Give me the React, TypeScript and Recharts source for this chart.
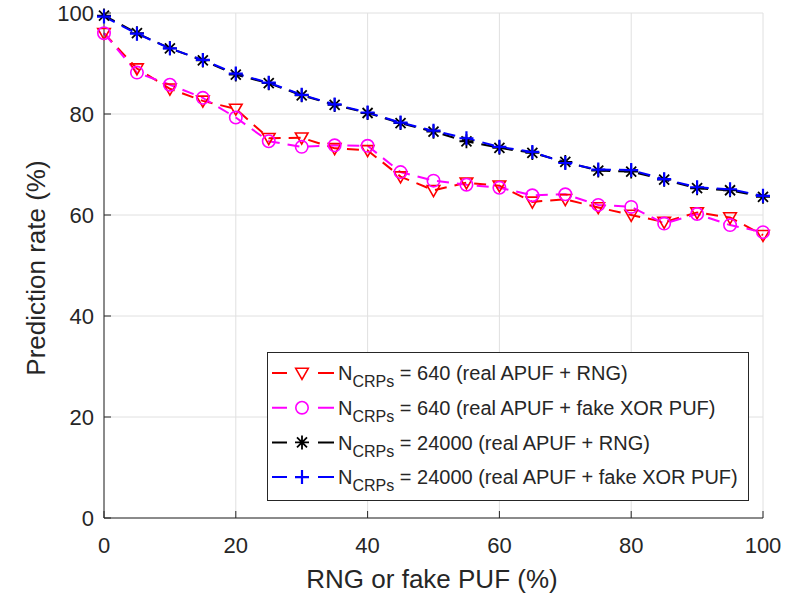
import React from "react";
import { LineChart, Line, XAxis, YAxis, CartesianGrid, Legend } from "recharts";

/* ── Data ─────────────────────────────────────────────────────── */
const fakeShare = [0, 5, 10, 15, 20, 25, 30, 35, 40, 45, 50, 55, 60, 65, 70, 75, 80, 85, 90, 95, 100];

const crp640Rng = [96, 89, 85, 82.6, 81, 75.2, 75.3, 73.2, 72.8, 67.6, 64.9, 66.4, 65.8, 62.6, 63.1, 61.5, 60, 58.6, 60.5, 59.5, 56];
const crp640Xor = [96, 88.2, 85.8, 83.2, 79.3, 74.6, 73.5, 73.8, 73.7, 68.5, 66.8, 66, 65.4, 63.9, 64.1, 62, 61.6, 58.3, 60.2, 58, 56.6];
const crp24kRng = [99.5, 96, 93, 90.6, 87.8, 86.1, 83.7, 81.8, 80.2, 78.2, 76.5, 74.6, 73.3, 72.3, 70.5, 68.8, 68.6, 67, 65.3, 64.9, 63.6];
const crp24kXor = [99.3, 95.9, 93, 90.7, 88, 86.2, 83.8, 81.9, 80.3, 78.3, 76.7, 75.2, 73.5, 72.5, 70.3, 69, 68.9, 67.1, 65.5, 65.1, 63.8];

const xTicks = [0, 20, 40, 60, 80, 100];
const yTicks = [0, 20, 40, 60, 80, 100];

const series = [
  { key: "r640", color: "#ff0000", marker: "tri", n: "640", rest: "(real APUF + RNG)" },
  { key: "x640", color: "#ff00ff", marker: "circle", n: "640", rest: "(real APUF + fake XOR PUF)" },
  { key: "r24k", color: "#000000", marker: "star", n: "24000", rest: "(real APUF + RNG)" },
  { key: "x24k", color: "#0000ff", marker: "plus", n: "24000", rest: "(real APUF + fake XOR PUF)" },
];

const rows = fakeShare.map((x, i) => ({
  x,
  r640: crp640Rng[i],
  x640: crp640Xor[i],
  r24k: crp24kRng[i],
  x24k: crp24kXor[i],
}));

const FONT = '"Liberation Sans", Arial, Helvetica, sans-serif';
const INK = "#262626";
const TICK_LEN = 7;

/* ── Markers (MATLAB style) ──────────────────────────────────── */
function marker(type: string, cx: number, cy: number, color: string, key?: string | number) {
  if (type === "tri") {
    const s = 6.3;
    return (
      <polygon
        key={key}
        points={`${cx - s},${cy - s * 0.75} ${cx + s},${cy - s * 0.75} ${cx},${cy + s}`}
        fill="none"
        stroke={color}
        strokeWidth={1.6}
      />
    );
  }
  if (type === "circle") {
    return <circle key={key} cx={cx} cy={cy} r={6.2} fill="none" stroke={color} strokeWidth={1.6} />;
  }
  if (type === "star") {
    const s = 7;
    const d = 5;
    return (
      <path
        key={key}
        d={`M${cx - s},${cy}H${cx + s}M${cx},${cy - s}V${cy + s}M${cx - d},${cy - d}L${cx + d},${cy + d}M${cx - d},${cy + d}L${cx + d},${cy - d}`}
        stroke={color}
        strokeWidth={1.8}
        fill="none"
      />
    );
  }
  const s = 7;
  return (
    <path
      key={key}
      d={`M${cx - s},${cy}H${cx + s}M${cx},${cy - s}V${cy + s}`}
      stroke={color}
      strokeWidth={2.2}
      fill="none"
    />
  );
}

/* ── Inward ticks ─────────────────────────────────────────────── */
function BottomTick(props: any) {
  const { x, y, payload } = props;
  return (
    <g>
      <line x1={x} x2={x} y1={y} y2={y - TICK_LEN} stroke={INK} />
      <text x={x} y={y + 35} textAnchor="middle" fill={INK} fontSize={22} fontFamily={FONT}>
        {payload.value}
      </text>
    </g>
  );
}

function LeftTick(props: any) {
  const { x, y, payload } = props;
  return (
    <g>
      <line x1={x} x2={x + TICK_LEN} y1={y} y2={y} stroke={INK} />
      <text x={x - 10} y={y + 8} textAnchor="end" fill={INK} fontSize={22} fontFamily={FONT}>
        {payload.value}
      </text>
    </g>
  );
}

function TopTick(props: any) {
  const { x, y } = props;
  return <line x1={x} x2={x} y1={y} y2={y + TICK_LEN} stroke={INK} />;
}

function RightTick(props: any) {
  const { x, y } = props;
  return <line x1={x} x2={x - TICK_LEN} y1={y} y2={y} stroke={INK} />;
}

/* ── Legend box ───────────────────────────────────────────────── */
function LegendBox() {
  return (
    <svg width={482} height={149} style={{ display: "block" }}>
      <rect x={0.5} y={0.5} width={481} height={148} fill="#fff" stroke={INK} />
      {series.map((s, i) => {
        const cy = 21 + i * 34.7;
        return (
          <g key={s.key}>
            <line x1={5} x2={67} y1={cy} y2={cy} stroke={s.color} strokeWidth={2} strokeDasharray="15 31 16" />
            {marker(s.marker, 35, cy, s.color)}
            <text x={71} y={cy + 7.2} fontSize={20} fontFamily={FONT} fill={INK}>
              <tspan>N</tspan>
              <tspan fontSize={16} dy={7}>CRPs</tspan>
              <tspan dy={-7}>{` = ${s.n} ${s.rest}`}</tspan>
            </text>
          </g>
        );
      })}
    </svg>
  );
}

export default function App() {
  return (
    <div style={{ position: "absolute", left: 0, top: 0, width: 790, height: 593, background: "#fff" }}>
      <LineChart width={790} height={593} data={rows} margin={{ top: 13, right: 27, bottom: 0, left: 0 }}>
        <CartesianGrid stroke="#e0e0e0" strokeWidth={1} />
        <XAxis
          dataKey="x"
          type="number"
          domain={[0, 100]}
          ticks={xTicks}
          interval={0}
          height={75}
          tickSize={0}
          tickMargin={0}
          tickLine={false}
          axisLine={{ stroke: INK }}
          tick={<BottomTick />}
          label={{
            content: () => (
              <text x={432} y={588} textAnchor="middle" fill={INK} fontSize={26} fontFamily={FONT}>
                RNG or fake PUF (%)
              </text>
            ),
          }}
        />
        <XAxis
          xAxisId="top"
          orientation="top"
          dataKey="x"
          type="number"
          domain={[0, 100]}
          ticks={xTicks}
          interval={0}
          height={0}
          tickSize={0}
          tickMargin={0}
          tickLine={false}
          axisLine={{ stroke: INK }}
          tick={<TopTick />}
        />
        <YAxis
          type="number"
          domain={[0, 100]}
          ticks={yTicks}
          interval={0}
          width={104}
          tickSize={0}
          tickMargin={0}
          tickLine={false}
          axisLine={{ stroke: INK }}
          tick={<LeftTick />}
          label={{
            content: () => (
              <text
                x={45}
                y={268}
                transform="rotate(-90 45 268)"
                textAnchor="middle"
                fill={INK}
                fontSize={26}
                fontFamily={FONT}
              >
                Prediction rate (%)
              </text>
            ),
          }}
        />
        <YAxis
          yAxisId="right"
          orientation="right"
          type="number"
          domain={[0, 100]}
          ticks={yTicks}
          interval={0}
          width={0}
          tickSize={0}
          tickMargin={0}
          tickLine={false}
          axisLine={{ stroke: INK }}
          tick={<RightTick />}
        />
        <Legend
          layout="vertical"
          align="center"
          verticalAlign="middle"
          content={() => <LegendBox />}
          wrapperStyle={{ position: "absolute", left: 267, top: 352, width: 482, height: 149 }}
        />
        {series.map((s) => (
          <Line
            key={s.key}
            dataKey={s.key}
            stroke={s.color}
            strokeWidth={2}
            strokeDasharray="12 8"
            isAnimationActive={false}
            dot={(p: any) => marker(s.marker, p.cx, p.cy, s.color, `${s.key}-${p.index}`)}
            activeDot={false}
          />
        ))}
      </LineChart>
    </div>
  );
}
